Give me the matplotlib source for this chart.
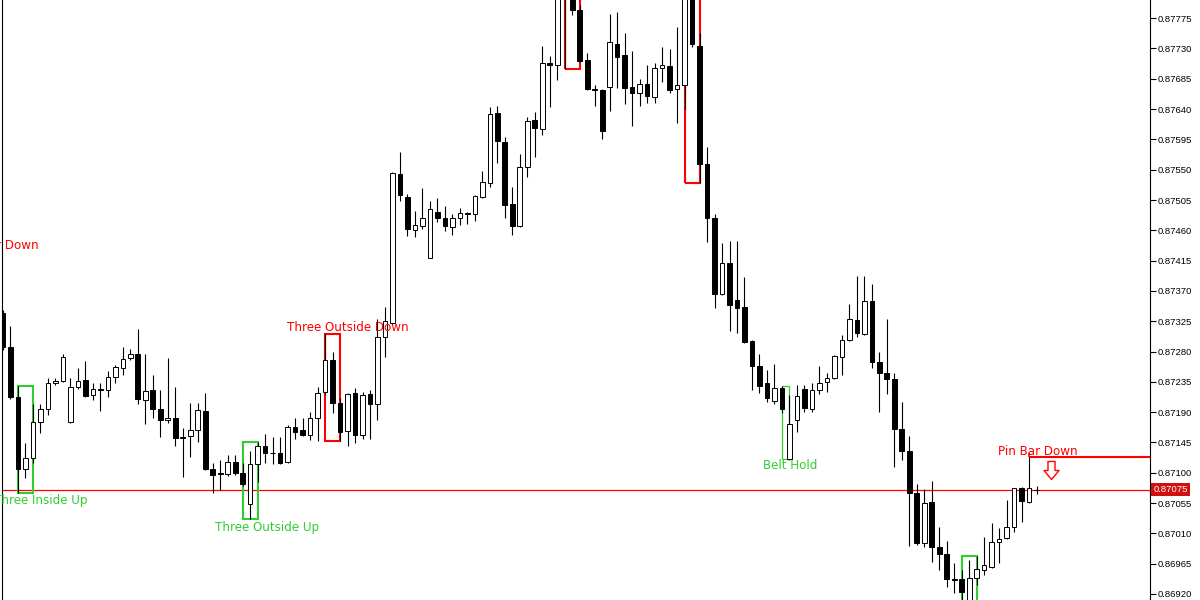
"""Candlestick chart with pattern boxes, redrawn from a terminal screenshot."""
import numpy as np
import matplotlib; matplotlib.use("Agg")
import matplotlib.pyplot as plt
import matplotlib.transforms as mtransforms
from matplotlib.patches import Rectangle
from matplotlib.path import Path

GREEN, RED = "#32cd32", "#ff0000"

opens = [0.87337, 0.87286, 0.87212, 0.87105, 0.87122, 0.87175, 0.87194, 0.87233, 0.87236, 0.87175,
         0.87227, 0.87237, 0.87215, 0.87224, 0.87223, 0.87242, 0.87255, 0.87270, 0.87277, 0.87208,
         0.87223, 0.87194, 0.87179, 0.87182, 0.87153, 0.87154, 0.87163, 0.87191, 0.87105, 0.87099,
         0.87098, 0.87116, 0.87099, 0.87053, 0.87113, 0.87139, 0.87130, 0.87130, 0.87116, 0.87168,
         0.87163, 0.87156, 0.87181, 0.87220, 0.87267, 0.87203, 0.87162, 0.87218, 0.87156, 0.87217,
         0.87202, 0.87301, 0.87322, 0.87543, 0.87509, 0.87460, 0.87466, 0.87419, 0.87487, 0.87479,
         0.87465, 0.87478, 0.87485, 0.87484, 0.87509, 0.87530, 0.87634, 0.87591, 0.87499, 0.87466,
         0.87554, 0.87624, 0.87610, 0.87708, 0.87705, 0.87817, 0.87861, 0.87787, 0.87713, 0.87670,
         0.87668, 0.87673, 0.87736, 0.87720, 0.87673, 0.87664, 0.87677, 0.87658, 0.87701, 0.87704,
         0.87670, 0.87676, 0.87839, 0.87733, 0.87558, 0.87478, 0.87365, 0.87411, 0.87356, 0.87346,
         0.87295, 0.87258, 0.87233, 0.87206, 0.87226, 0.87120, 0.87178, 0.87224, 0.87194, 0.87223,
         0.87234, 0.87240, 0.87272, 0.87297, 0.87327, 0.87306, 0.87355, 0.87264, 0.87248, 0.87239,
         0.87165, 0.87132, 0.87070, 0.86995, 0.87056, 0.86989, 0.86979, 0.86942, 0.86942, 0.86905,
         0.86943, 0.86955, 0.86960, 0.86997, 0.87003, 0.87019, 0.87077, 0.87056, 0.87075]
highs = [0.87341, 0.87318, 0.87229, 0.87144, 0.87202, 0.87202, 0.87240, 0.87240, 0.87277, 0.87240,
         0.87255, 0.87266, 0.87233, 0.87233, 0.87251, 0.87260, 0.87286, 0.87283, 0.87313, 0.87276,
         0.87245, 0.87223, 0.87270, 0.87227, 0.87166, 0.87203, 0.87203, 0.87218, 0.87114, 0.87119,
         0.87126, 0.87126, 0.87114, 0.87133, 0.87145, 0.87157, 0.87153, 0.87153, 0.87171, 0.87182,
         0.87181, 0.87190, 0.87227, 0.87306, 0.87279, 0.87211, 0.87218, 0.87226, 0.87220, 0.87223,
         0.87329, 0.87346, 0.87546, 0.87577, 0.87514, 0.87488, 0.87523, 0.87503, 0.87508, 0.87496,
         0.87484, 0.87493, 0.87487, 0.87512, 0.87548, 0.87643, 0.87644, 0.87598, 0.87525, 0.87573,
         0.87628, 0.87635, 0.87733, 0.87719, 0.87839, 0.87869, 0.87876, 0.87794, 0.87723, 0.87676,
         0.87670, 0.87781, 0.87784, 0.87753, 0.87726, 0.87684, 0.87705, 0.87708, 0.87732, 0.87729,
         0.87762, 0.87854, 0.87846, 0.87753, 0.87583, 0.87484, 0.87441, 0.87444, 0.87444, 0.87390,
         0.87297, 0.87276, 0.87252, 0.87261, 0.87229, 0.87215, 0.87230, 0.87231, 0.87233, 0.87258,
         0.87248, 0.87275, 0.87304, 0.87350, 0.87392, 0.87392, 0.87380, 0.87279, 0.87329, 0.87248,
         0.87205, 0.87154, 0.87084, 0.87076, 0.87087, 0.87019, 0.86998, 0.86966, 0.86955, 0.86970,
         0.86976, 0.87004, 0.87025, 0.87018, 0.87059, 0.87077, 0.87079, 0.87123, 0.87080]
lows = [0.87282, 0.87210, 0.87070, 0.87092, 0.87114, 0.87159, 0.87185, 0.87230, 0.87234, 0.87174,
        0.87224, 0.87212, 0.87208, 0.87191, 0.87212, 0.87233, 0.87245, 0.87267, 0.87202, 0.87172,
        0.87182, 0.87153, 0.87174, 0.87139, 0.87093, 0.87123, 0.87145, 0.87104, 0.87070, 0.87074,
        0.87095, 0.87096, 0.87081, 0.87031, 0.87086, 0.87114, 0.87113, 0.87113, 0.87114, 0.87150,
        0.87154, 0.87148, 0.87147, 0.87215, 0.87188, 0.87147, 0.87139, 0.87144, 0.87150, 0.87150,
        0.87178, 0.87272, 0.87319, 0.87503, 0.87451, 0.87450, 0.87462, 0.87419, 0.87472, 0.87459,
        0.87453, 0.87468, 0.87469, 0.87474, 0.87508, 0.87525, 0.87560, 0.87478, 0.87453, 0.87465,
        0.87539, 0.87569, 0.87601, 0.87643, 0.87683, 0.87699, 0.87779, 0.87710, 0.87668, 0.87644,
        0.87595, 0.87637, 0.87671, 0.87647, 0.87615, 0.87644, 0.87649, 0.87649, 0.87680, 0.87664,
        0.87619, 0.87640, 0.87732, 0.87530, 0.87442, 0.87344, 0.87364, 0.87310, 0.87307, 0.87293,
        0.87223, 0.87218, 0.87205, 0.87202, 0.87188, 0.87119, 0.87160, 0.87190, 0.87190, 0.87217,
        0.87220, 0.87239, 0.87245, 0.87295, 0.87301, 0.87304, 0.87255, 0.87190, 0.87217, 0.87108,
        0.87119, 0.86991, 0.86992, 0.86989, 0.86967, 0.86955, 0.86930, 0.86921, 0.86903, 0.86896,
        0.86933, 0.86948, 0.86958, 0.86966, 0.87001, 0.87012, 0.87027, 0.87055, 0.87068]
closes = [0.87286, 0.87212, 0.87105, 0.87122, 0.87175, 0.87194, 0.87233, 0.87236, 0.87272, 0.87227,
          0.87236, 0.87214, 0.87224, 0.87223, 0.87242, 0.87257, 0.87269, 0.87277, 0.87209, 0.87221,
          0.87194, 0.87179, 0.87182, 0.87151, 0.87151, 0.87163, 0.87193, 0.87105, 0.87096, 0.87098,
          0.87116, 0.87099, 0.87084, 0.87113, 0.87139, 0.87130, 0.87129, 0.87114, 0.87168, 0.87160,
          0.87156, 0.87182, 0.87218, 0.87267, 0.87203, 0.87160, 0.87217, 0.87156, 0.87215, 0.87202,
          0.87301, 0.87325, 0.87545, 0.87512, 0.87462, 0.87468, 0.87479, 0.87491, 0.87479, 0.87466,
          0.87478, 0.87485, 0.87484, 0.87511, 0.87531, 0.87632, 0.87592, 0.87497, 0.87466, 0.87554,
          0.87622, 0.87612, 0.87708, 0.87705, 0.87817, 0.87854, 0.87787, 0.87711, 0.87670, 0.87668,
          0.87607, 0.87739, 0.87717, 0.87671, 0.87664, 0.87678, 0.87659, 0.87701, 0.87705, 0.87668,
          0.87676, 0.87831, 0.87736, 0.87558, 0.87479, 0.87365, 0.87411, 0.87349, 0.87344, 0.87294,
          0.87258, 0.87229, 0.87211, 0.87226, 0.87194, 0.87172, 0.87214, 0.87196, 0.87223, 0.87233,
          0.87240, 0.87273, 0.87297, 0.87329, 0.87307, 0.87355, 0.87264, 0.87248, 0.87239, 0.87165,
          0.87132, 0.87070, 0.86995, 0.87055, 0.86989, 0.86980, 0.86942, 0.86940, 0.86923, 0.86943,
          0.86957, 0.86963, 0.86997, 0.87001, 0.87019, 0.87077, 0.87058, 0.87077, 0.87075]

bid = 0.87075
price_ticks = [0.87775, 0.87730, 0.87685, 0.87640, 0.87595, 0.87550, 0.87505, 0.87460, 0.87415, 0.87370,
               0.87325, 0.87280, 0.87235, 0.87190, 0.87145, 0.87100, 0.87055, 0.87010, 0.86965, 0.86920]

# pattern boxes: first bar, last bar, top, bottom
box_start = [2, 32, 43, 75, 91, 104, 128]
box_end = [4, 34, 45, 77, 93, 105, 130]
box_top = [0.87229, 0.87145, 0.87306, 0.87876, 0.87846, 0.87229, 0.86976]
box_bottom = [0.87070, 0.87031, 0.87147, 0.87699, 0.87530, 0.87120, 0.86896]
box_color = [GREEN, GREEN, RED, RED, RED, GREEN, GREEN]
box_lw = [1.5, 1.5, 1.5, 1.5, 1.5, 0.9, 1.5]

label_text = ["Pin Bar Down", "Three Inside Up", "Three Outside Up", "Three Outside Down",
              "Belt Hold", "Pin Bar Down"]
label_x = [-0.53, 5.07, 35.2, 46.1, 105.1, 138.2]
label_y = [0.87438, 0.87059, 0.87019, 0.87316, 0.87111, 0.87132]
label_color = [RED, GREEN, GREEN, RED, GREEN, RED]

pin_bar, pin_level = 137, 0.87123
arrow_x, arrow_y = 139.9, 0.87104

XLIM = (-0.1335, 153.14)
YLIM = (0.86911, 0.87802)


def draw_candles(ax):
    o, h, l, c = (np.asarray(a) for a in (opens, highs, lows, closes))
    x = np.arange(len(o))
    ax.vlines(x, l, h, color="black", lw=0.8, zorder=3)
    face = np.where(c > o, "white", "black")
    ax.bar(x, np.abs(c - o), width=0.62, bottom=np.minimum(o, c), color=face,
           edgecolor="black", linewidth=0.7, zorder=4)


def draw_patterns(ax):
    for s, e, t, b, col, lw in zip(box_start, box_end, box_top, box_bottom, box_color, box_lw):
        ax.add_patch(Rectangle((s, b), e - s, t - b, fill=False, edgecolor=col, lw=lw, zorder=2))
    for txt, x, y, col in zip(label_text, label_x, label_y, label_color):
        ax.text(x, y, txt, color=col, fontsize=8.6, ha="center", va="center", zorder=5)
    ax.hlines(pin_level, pin_bar, XLIM[1], color=RED, lw=1.5, zorder=2)
    ax.vlines(pin_bar, pin_level, pin_level + 0.00006, color=RED, lw=1.2, zorder=5)
    arrow = Path([(-0.39, 1), (0.39, 1), (0.39, 0), (0.83, 0), (0, -1), (-0.83, 0), (-0.39, 0), (-0.39, 1)],
                 [Path.MOVETO] + [Path.LINETO] * 6 + [Path.CLOSEPOLY])
    ax.plot([arrow_x], [arrow_y], marker=arrow, ms=13, mfc="white", mec=RED, mew=1.0, zorder=5)


def main():
    fig = plt.figure(figsize=(12, 6), dpi=100)
    ax = fig.add_axes([2 / 1200, 0, 1148 / 1200, 1])
    ax.axhline(bid, color=RED, lw=0.9, zorder=1)
    draw_patterns(ax)
    draw_candles(ax)
    ax.set_xlim(*XLIM); ax.set_ylim(*YLIM)
    ax.set_xticks([])
    ax.yaxis.tick_right()
    ax.set_yticks(price_ticks)
    ax.set_yticklabels([f"{p:.5f}" for p in price_ticks], fontfamily="Liberation Sans")
    ax.tick_params(axis="y", direction="out", length=4, width=0.8, pad=1.5, labelsize=6.8)
    for side in ("top", "bottom"):
        ax.spines[side].set_visible(False)
    for side in ("left", "right"):
        ax.spines[side].set_linewidth(0.8)
    tr = mtransforms.blended_transform_factory(ax.transAxes, ax.transData)
    ax.text(1.003, bid, f"{bid:.5f}", transform=tr, color="white", fontsize=6.8,
            fontfamily="Liberation Sans", va="center", ha="left", clip_on=False,
            bbox=dict(boxstyle="square,pad=0.22", fc="#d01010", ec="none"))
    fig.savefig("out.png", dpi=100)
    plt.close(fig)


if __name__ == "__main__":
    main()
